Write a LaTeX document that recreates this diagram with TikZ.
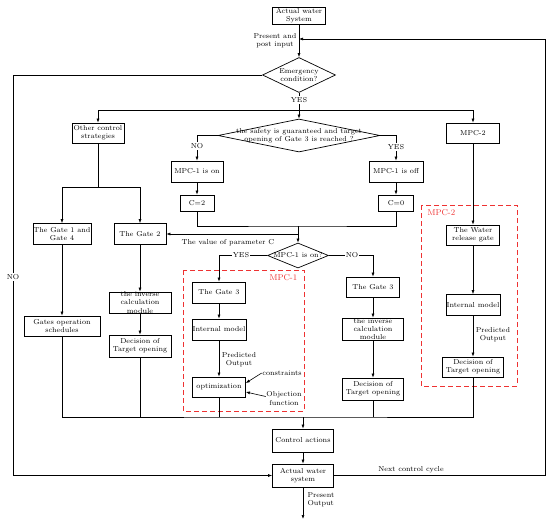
\documentclass[tikz,border=0pt]{standalone}
\usetikzlibrary{arrows.meta,shapes.geometric}
\definecolor{mpcred}{RGB}{238,50,50}
\begin{document}
\begin{tikzpicture}[x=1pt, y=-1pt,
    txt/.style={font=\fontsize{7.2}{8.2}\selectfont, align=center, inner sep=0.5pt},
    box/.style={txt, draw, line width=0.7pt, minimum width=53, minimum height=21},
    dec/.style={draw, diamond, line width=0.7pt, inner sep=0pt},
    line/.style={line width=0.6pt},
    arr/.style={line, -{Latex[length=4pt,width=3pt]}},
    tag/.style={txt, fill=white, inner sep=1pt},
    mpcbox/.style={draw=mpcred, line width=1pt, dash pattern=on 5pt off 3pt},
    mpctag/.style={font=\fontsize{8.5}{9}\selectfont, text=mpcred}]

\useasboundingbox (0,0) rectangle (550,520);

% Top of the loop
\node[box, minimum height=17] (sys0) at (299,16) {Actual water\\System};
\node[dec, minimum width=73, minimum height=35, label={[txt]center:Emergency\\condition?}] (emerg) at (299,75) {};
\draw[arr] (sys0) -- (emerg);
\node[txt] (inp) at (275,41) {Present and\\post input};

% First split
\coordinate (split) at (299,110);
\node[box, minimum width=52, minimum height=20] (other) at (98,133) {Other control\\strategies};
\node[dec, minimum width=162, minimum height=33, label={[txt]center:the safety is guaranteed and target\\opening of Gate 3 is reached ?}] (safe) at (299,135.5) {};
\node[box, minimum height=20] (mpc2) at (473,133) {MPC-2};
\draw[line] (emerg.south) -- (split);
\node[tag] (yes0) at (299,100) {YES};
\draw[arr] (split) -| (other.north);
\draw[arr] (split) -- (safe.north);
\draw[arr] (split) -| (mpc2.north);

% Parameter C
\node[box, minimum width=52] (on) at (197,171.5) {MPC-1 is on};
\node[box, minimum width=54] (off) at (396,171.5) {MPC-1 is off};
\node[box, minimum width=34, minimum height=16] (c2) at (197,203) {C=2};
\node[box, minimum width=35, minimum height=16] (c0) at (396,203) {C=0};
\draw[arr] (safe.west) -| (on.north);
\draw[arr] (safe.east) -| (off.north);
\node[tag] (no1) at (197,146) {NO};
\node[tag] (yes1) at (396,147) {YES};
\draw[arr] (on) -- (c2);
\draw[arr] (off) -- (c0);
\coordinate (mrg) at (298,226);
\coordinate (cval) at (298,234);
\draw[line] (c2.south) |- (mrg) -| (c0.south);

% Other control strategies
\coordinate (brL) at (98,187);
\node[box] (g14) at (62,234) {The Gate 1 and\\Gate 4};
\node[box, minimum width=52] (g2) at (140,234) {The Gate 2};
\node[box, minimum width=76, minimum height=20] (gos) at (62,326) {Gates operation\\schedules};
\node[box, minimum width=62, label={[txt]center:the inverse\\calculation\\module}] (inva) at (140,302.5) {};
\node[box, minimum width=62, minimum height=22] (deca) at (140,346) {Decision of\\Target opening};
\draw[line] (other.south) -- (brL);
\draw[arr] (brL) -| (g14.north);
\draw[arr] (brL) -| (g2.north);
\draw[arr] (g14) -- (gos);
\draw[arr] (g2) -- (inva);
\draw[arr] (inva) -- (deca);

% MPC-1 is on?
\node[dec, minimum width=61, minimum height=25, label={[txt]center:MPC-1 is on?}] (onq) at (298,255.5) {};
\draw[arr] (mrg) -- (onq.north);
\draw[arr] (cval) -- (g2.east);
\node[txt] (cnote) at (228,243) {The value of parameter C};

% MPC-1 branch
\draw[mpcbox] (183,270) rectangle (304,411);
\node[mpctag] (mpc1tag) at (283.5,278) {MPC-1};
\node[box] (g3a) at (219,292.5) {The Gate 3};
\node[box] (ima) at (219,329.5) {Internal model};
\node[box, minimum height=20] (opt) at (219,387) {optimization};
\draw[arr] (onq.west) -| (g3a.north);
\node[tag] (yes2) at (241,255.5) {YES};
\draw[arr] (g3a) -- (ima);
\draw[arr] (ima) -- (opt);
\node[txt] (po1) at (239,359.5) {Predicted\\Output};
\node[txt] (cons) at (282,373) {constraints};
\node[txt] (obj) at (284,398.5) {Objection\\function};
\draw[arr] (cons.west) -- ([yshift=4pt]opt.east);
\draw[arr] ([yshift=2pt]obj.west) -- ([yshift=-5pt]opt.east);

% NO branch
\node[box, minimum height=20] (g3b) at (373,287) {The Gate 3};
\node[box, minimum width=61, minimum height=22, label={[txt]center:the inverse\\calculation\\module}] (invb) at (373,329) {};
\node[box, minimum width=61, minimum height=22] (decb) at (373,389) {Decision of\\Target opening};
\draw[arr] (onq.east) -| (g3b.north);
\node[tag] (no2) at (352,255.5) {NO};
\draw[arr] (g3b) -- (invb);
\draw[arr] (invb) -- (decb);

% MPC-2 branch
\draw[mpcbox] (421,205) rectangle (517,386);
\node[mpctag] (mpc2tag) at (441.5,213) {MPC-2};
\node[box, minimum height=20] (wrg) at (473,235) {The Water\\release gate};
\node[box] (imb) at (473,305) {Internal model};
\node[box, minimum width=61, minimum height=20] (decc) at (473,367) {Decision of\\Target opening};
\draw[arr] (mpc2) -- (wrg);
\draw[arr] (wrg) -- (imb);
\draw[arr] (imb) -- (decc);
\node[txt] (po2) at (493,335) {Predicted\\Output};

% Collecting line
\coordinate (bus) at (303,417);
\draw[line] (gos.south) |- (bus) -| (decc.south);
\foreach \n in {deca, opt, decb}
    \draw[line] (\n.south) -- (\n.south |- bus);

% Bottom of the loop
\node[box, minimum width=61, minimum height=23] (act) at (303,440.5) {Control actions};
\node[box, minimum width=61, minimum height=23] (sys1) at (303,475.5) {Actual water\\system};
\draw[arr] (bus) -- (act.north);
\draw[arr] (act) -- (sys1);
\coordinate (noL) at (13,75);
\draw[arr] (emerg.west) -- (noL) |- (sys1.west);
\node[tag] (no0) at (13,277) {NO};
\coordinate (fbR) at (545,39);
\coordinate (fb) at (299,39);
\draw[arr] (sys1.east) -| (fbR) -- (fb);
\node[txt] (next) at (411,470) {Next control cycle};
\coordinate (out) at (303,519);
\draw[arr] (sys1.south) -- (out);
\node[txt, align=left] (pout) at (321,500) {Present\\Output};

\end{tikzpicture}
\end{document}
